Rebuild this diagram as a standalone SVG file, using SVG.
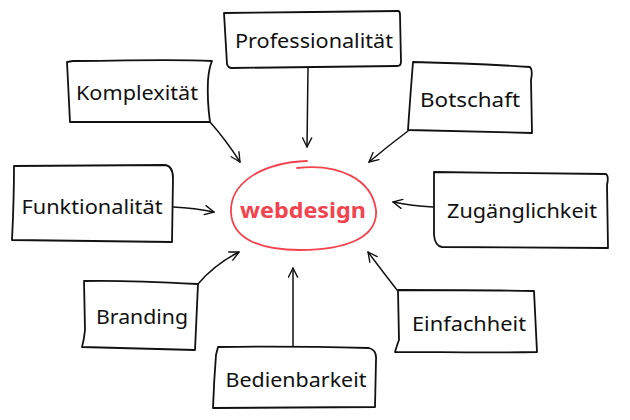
<svg xmlns="http://www.w3.org/2000/svg" width="630" height="420" viewBox="0 0 630 420">
<style>
.box{fill:#fff;stroke:#111;stroke-width:1.8;stroke-linejoin:round;stroke-linecap:round}
.con{fill:none;stroke:#111;stroke-width:1.5;stroke-linecap:round}
.lbl{font-family:"Noto Sans","Liberation Sans",sans-serif;font-size:19px;fill:#111}
.hub{font-family:"Noto Sans","Liberation Sans",sans-serif;font-size:21px;font-weight:bold;fill:#f2434f}
</style>
<defs>
<marker id="ah" viewBox="0 0 12 12" refX="11" refY="6" markerWidth="11" markerHeight="11" markerUnits="userSpaceOnUse" orient="auto">
<path d="M1,1 L11,6 L1,11" fill="none" stroke="#111" stroke-width="1.5" stroke-linecap="round" stroke-linejoin="round"/>
</marker>
</defs>
<g id="connectors">
<path class="con" d="M308,68 L307,147" marker-end="url(#ah)"/>
<path class="con" d="M210,122 Q226,140 240,162" marker-end="url(#ah)"/>
<path class="con" d="M408,131 Q388,146 369,162" marker-end="url(#ah)"/>
<path class="con" d="M173,207 Q195,208 214,212" marker-end="url(#ah)"/>
<path class="con" d="M433,207 Q412,206 393,202" marker-end="url(#ah)"/>
<path class="con" d="M198,284 Q215,264 239,252" marker-end="url(#ah)"/>
<path class="con" d="M397,290 Q383,272 368,252" marker-end="url(#ah)"/>
<path class="con" d="M293,346 L293,268" marker-end="url(#ah)"/>
</g>
<g id="hub-webdesign">
<path d="M297,168 C340,163 372,180 376,210 C378,238 345,250 300,250 C262,250 232,240 231,212 C230,185 258,163 307,161" fill="none" stroke="#f2434f" stroke-width="1.8" stroke-linecap="round"/>
<text class="hub" x="303" y="218" text-anchor="middle" textLength="126" lengthAdjust="spacingAndGlyphs">webdesign</text>
</g>
<g id="node-professionalitaet">
<path class="box" d="M224,13 C270,12 350,12 398,11 Q400,11 400,15 L401,62 Q401,66 397,66 L232,68 Q228,68 227,64 Z"/>
<text class="lbl" x="314" y="48" text-anchor="middle" textLength="158" lengthAdjust="spacingAndGlyphs">Professionalität</text>
</g>
<g id="node-komplexitaet">
<path class="box" d="M67,62 L70,122 L210,122 Q207,100 208,80 Q209,68 212,61 C170,59 110,61 73,61 Z"/>
<text class="lbl" x="137" y="100" text-anchor="middle" textLength="122" lengthAdjust="spacingAndGlyphs">Komplexität</text>
</g>
<g id="node-botschaft">
<path class="box" d="M413,62 C460,63 500,65 530,67 Q533,70 531,80 L532,133 L408,130 Q410,100 413,62 Z"/>
<text class="lbl" x="470" y="107" text-anchor="middle" textLength="100" lengthAdjust="spacingAndGlyphs">Botschaft</text>
</g>
<g id="node-funktionalitaet">
<path class="box" d="M14,166 L165,165 Q173,166 173,178 L172,242 L12,240 Q14,200 14,166 Z"/>
<text class="lbl" x="92" y="214" text-anchor="middle" textLength="141" lengthAdjust="spacingAndGlyphs">Funktionalität</text>
</g>
<g id="node-zugaenglichkeit">
<path class="box" d="M434,172 C490,173 560,173 606,174 Q609,176 607,185 L608,248 L442,247 Q435,246 434,235 Z"/>
<text class="lbl" x="522" y="218" text-anchor="middle" textLength="150" lengthAdjust="spacingAndGlyphs">Zugänglichkeit</text>
</g>
<g id="node-branding">
<path class="box" d="M84,281 C120,280 160,282 198,284 L195,350 L82,347 Q84,340 85,330 Z"/>
<text class="lbl" x="142" y="324" text-anchor="middle" textLength="92" lengthAdjust="spacingAndGlyphs">Branding</text>
</g>
<g id="node-einfachheit">
<path class="box" d="M398,290 C440,290 490,290 534,291 L537,352 C490,353 440,352 395,352 Q397,345 399,340 Z"/>
<text class="lbl" x="469" y="331" text-anchor="middle" textLength="114" lengthAdjust="spacingAndGlyphs">Einfachheit</text>
</g>
<g id="node-bedienbarkeit">
<path class="box" d="M218,347 C270,346 330,347 369,348 Q377,350 376,360 L375,407 L213,408 Q214,380 216,355 Z"/>
<text class="lbl" x="296" y="387" text-anchor="middle" textLength="141" lengthAdjust="spacingAndGlyphs">Bedienbarkeit</text>
</g>
</svg>
